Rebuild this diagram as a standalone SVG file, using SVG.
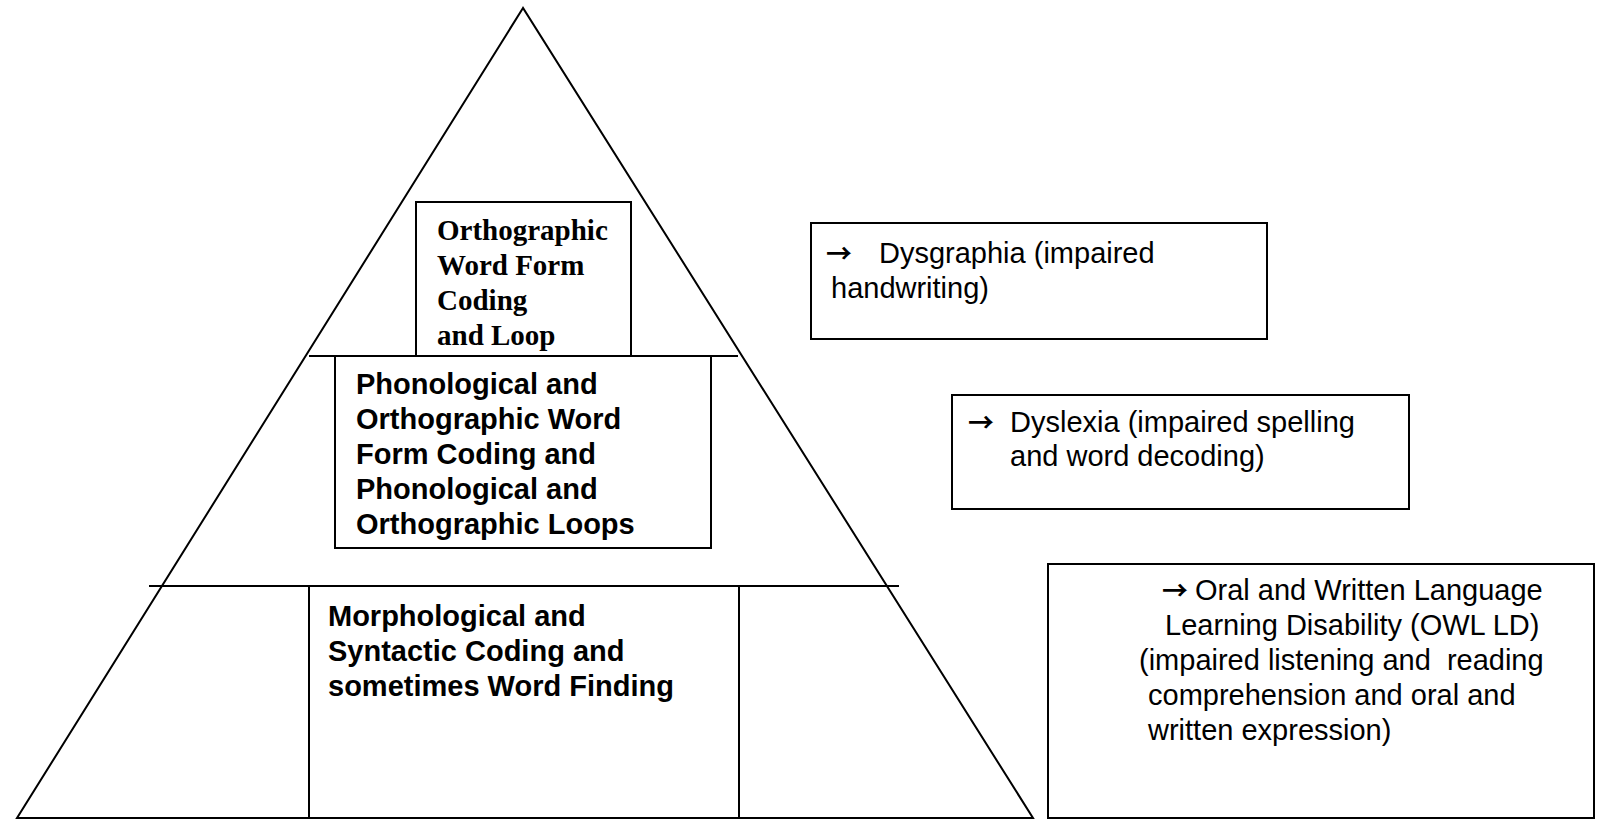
<svg xmlns="http://www.w3.org/2000/svg" width="1599" height="820" viewBox="0 0 1599 820">
<style>
.ln{stroke:#000;stroke-width:2;fill:none}
.bx{stroke:#000;stroke-width:2;fill:#fff}
.serif{font-family:"Liberation Serif","Times New Roman",serif;font-weight:bold;font-size:29px;fill:#000}
.sansb{font-family:"Liberation Sans",Arial,sans-serif;font-weight:bold;font-size:29px;fill:#000}
.sans{font-family:"Liberation Sans",Arial,"DejaVu Sans",sans-serif;font-size:29px;fill:#000}
.arr{font-family:"Noto Sans CJK SC","DejaVu Sans",sans-serif;font-size:26px;font-weight:bold}
</style>
<rect width="1599" height="820" fill="#fff"/>
<g id="pyramid">
<polygon class="ln" points="523,8 17,818 1033,818" stroke-linejoin="miter"/>
<line class="ln" x1="17" y1="818" x2="1033" y2="818" stroke-width="3"/>
</g>
<g id="connectors">
<line class="ln" x1="309" y1="356" x2="738" y2="356"/>
<line class="ln" x1="149" y1="586" x2="899" y2="586"/>
</g>
<g id="orthographic">
<rect class="bx" x="416" y="202" width="215" height="154"/>
<text class="serif"><tspan x="437" y="240">Orthographic</tspan><tspan x="437" y="275">Word Form</tspan><tspan x="437" y="310">Coding</tspan><tspan x="437" y="345">and Loop</tspan></text>
</g>
<g id="phonological">
<rect class="bx" x="335" y="356" width="376" height="192"/>
<text class="sansb"><tspan x="356" y="394">Phonological and</tspan><tspan x="356" y="429">Orthographic Word</tspan><tspan x="356" y="464">Form Coding and</tspan><tspan x="356" y="499">Phonological and</tspan><tspan x="356" y="534">Orthographic Loops</tspan></text>
</g>
<g id="morphological">
<line class="ln" x1="309" y1="586" x2="309" y2="818"/>
<line class="ln" x1="739" y1="586" x2="739" y2="818"/>
<text class="sansb"><tspan x="328" y="626">Morphological and</tspan><tspan x="328" y="661">Syntactic Coding and</tspan><tspan x="328" y="696">sometimes Word Finding</tspan></text>
</g>
<g id="dysgraphia">
<rect class="bx" x="811" y="223" width="456" height="116"/>
<text class="sans"><tspan class="arr" x="826" y="263">→</tspan><tspan x="879" y="263">Dysgraphia (impaired</tspan><tspan x="831" y="298">handwriting)</tspan></text>
</g>
<g id="dyslexia">
<rect class="bx" x="952" y="395" width="457" height="114"/>
<text class="sans"><tspan class="arr" x="968" y="432">→</tspan><tspan x="1010" y="432">Dyslexia (impaired spelling</tspan><tspan x="1010" y="466">and word decoding)</tspan></text>
</g>
<g id="owl-ld">
<rect class="bx" x="1048" y="564" width="546" height="254"/>
<text class="sans"><tspan class="arr" x="1162" y="600">→</tspan><tspan x="1195" y="600">Oral and Written Language</tspan><tspan x="1165" y="635">Learning Disability (OWL LD)</tspan><tspan x="1139" y="670" xml:space="preserve">(impaired listening and  reading</tspan><tspan x="1148" y="705">comprehension and oral and</tspan><tspan x="1148" y="740">written expression)</tspan></text>
</g>
</svg>
